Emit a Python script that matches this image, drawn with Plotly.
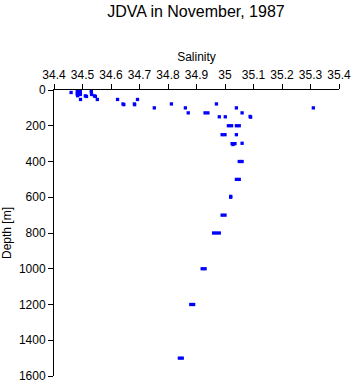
import plotly.graph_objects as go

salinity = [34.46,
            34.482, 34.492, 34.482, 34.492, 34.482, 34.492, 34.482, 34.492, 34.483,
            34.493, 34.510, 34.514, 34.531, 34.531, 34.532, 34.542, 34.545, 34.552,
            34.623, 34.642, 34.645, 34.682, 34.683, 34.693, 34.752, 34.812,
            34.861, 34.871, 34.930, 34.940, 34.970, 34.980, 35.001, 35.040, 35.060,
            35.088, 35.090, 35.012, 35.023, 35.040, 35.050,
            34.990, 35.000, 35.040,
            35.025, 35.035, 35.060, 35.028,
            35.050, 35.060, 35.040, 35.050, 35.020, 35.020,
            34.990, 35.000, 34.960, 34.970, 34.980,
            34.920, 34.930, 34.880, 34.890, 34.840, 34.850,
            35.310]
depth = [14,
         0, 0, 10, 10, 20, 20, 25, 25, 32,
         53, 33, 36, 2, 15, 25, 33, 36, 53,
         53, 78, 82, 78, 82, 53, 100, 78,
         100, 128, 128, 128, 78, 150, 150, 100, 128,
         148, 152, 200, 200, 200, 200,
         250, 250, 250,
         300, 300, 298, 305,
         400, 400, 500, 500, 595, 600,
         700, 700, 800, 800, 800,
         1000, 1000, 1200, 1200, 1500, 1500,
         100]

x_ticks = [34.4, 34.5, 34.6, 34.7, 34.8, 34.9, 35.0, 35.1, 35.2, 35.3, 35.4]
x_labels = ["34.4", "34.5", "34.6", "34.7", "34.8", "34.9", "35", "35.1", "35.2", "35.3", "35.4"]
y_ticks = [0, 200, 400, 600, 800, 1000, 1200, 1400, 1600]

fig = go.Figure(go.Scatter(
    x=salinity, y=depth, mode="markers",
    marker=dict(symbol="square", size=3.3, color="#0000ff", line=dict(width=0)),
    hoverinfo="skip"))

font = "Liberation Sans, Arial, Helvetica, sans-serif"
fig.update_layout(
    width=353, height=384,
    margin=dict(l=54, r=14, t=90, b=8, autoexpand=False),
    paper_bgcolor="white", plot_bgcolor="white",
    showlegend=False,
    font=dict(family=font, size=12, color="black"),
    title=dict(text="JDVA in November, 1987", x=0.555, xanchor="center",
               y=0.97, yanchor="middle", font=dict(size=16, family=font, color="black")),
    xaxis=dict(side="top", range=[34.4, 35.4], tickvals=x_ticks, ticktext=x_labels,
               ticks="outside", ticklen=5, tickcolor="black", tickwidth=1,
               showline=True, linecolor="black", linewidth=1, showgrid=False, zeroline=False,
               automargin=False,
               title=dict(text="Salinity", standoff=4, font=dict(size=12)),
               tickfont=dict(size=12)),
    yaxis=dict(range=[1600, 0], tickvals=y_ticks,
               ticks="outside", ticklen=5, tickcolor="black", tickwidth=1,
               showline=True, linecolor="black", linewidth=1, showgrid=False, zeroline=False,
               automargin=False,
               title=dict(text="Depth [m]", standoff=4, font=dict(size=12)),
               tickfont=dict(size=12)),
)

fig.write_html("out.html")
